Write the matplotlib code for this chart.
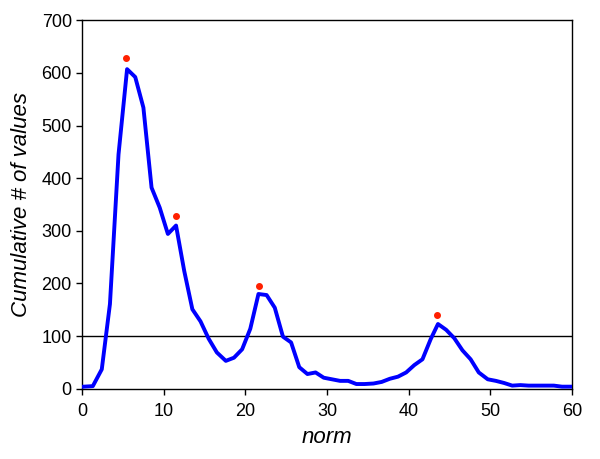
import matplotlib
matplotlib.use("Agg")
import matplotlib.pyplot as plt

plt.rcParams['font.family'] = ['Liberation Sans', 'DejaVu Sans']

# curve data
norm_x = [0.2, 1.3, 2.4, 3.4, 4.45, 5.5, 6.5, 7.5, 8.5, 9.5,
          10.5, 11.5, 12.5, 13.5, 14.5, 15.5, 16.5, 17.6, 18.6, 19.6,
          20.6, 21.6, 22.6, 23.6, 24.6, 25.6, 26.6, 27.6, 28.6, 29.6,
          30.6, 31.6, 32.6, 33.6, 34.6, 35.7, 36.7, 37.7, 38.7, 39.7,
          40.7, 41.7, 42.7, 43.6, 44.6, 45.6, 46.6, 47.6, 48.6, 49.7,
          50.7, 51.7, 52.7, 53.7, 54.7, 55.7, 56.8, 57.8, 58.8, 59.8]
counts = [4, 5, 37, 161, 445, 607, 592, 534, 382, 344,
          294, 310, 224, 151, 128, 95, 69, 53, 59, 75,
          114, 180, 178, 154, 99, 88, 41, 28, 31, 21,
          18, 15, 15, 9, 9, 10, 13, 19, 23, 31,
          45, 56, 94, 123, 112, 96, 73, 56, 31, 18,
          15, 11, 6, 7, 6, 6, 6, 6, 4, 4]

# peak markers
peak_x = [5.4, 11.5, 21.7, 43.5]
peak_y = [628, 328, 196, 140]

threshold = 100

fig = plt.figure(figsize=(6, 4.59), dpi=100)
ax = fig.add_axes([0.137, 0.153, 0.816, 0.803])

ax.plot(norm_x, counts, color='#0000ff', linewidth=2.8, zorder=3)
ax.plot(peak_x, peak_y, 'o', color='#ff2000', markersize=4, zorder=4)
ax.axhline(threshold, color='black', linewidth=1, zorder=2)

ax.set_xlim(0, 60)
ax.set_ylim(0, 700)
ax.set_xticks([0, 10, 20, 30, 40, 50, 60])
ax.set_yticks([0, 100, 200, 300, 400, 500, 600, 700])
ax.tick_params(direction='out', length=4, width=1, labelsize=13, top=False, right=False)
ax.tick_params(axis='x', pad=6)
for s in ax.spines.values():
    s.set_linewidth(1)

ax.set_xlabel('norm', fontsize=16, style='italic', labelpad=5)
ax.set_ylabel('Cumulative # of values', fontsize=16, style='italic', labelpad=7)

fig.savefig('out.png', dpi=100)
